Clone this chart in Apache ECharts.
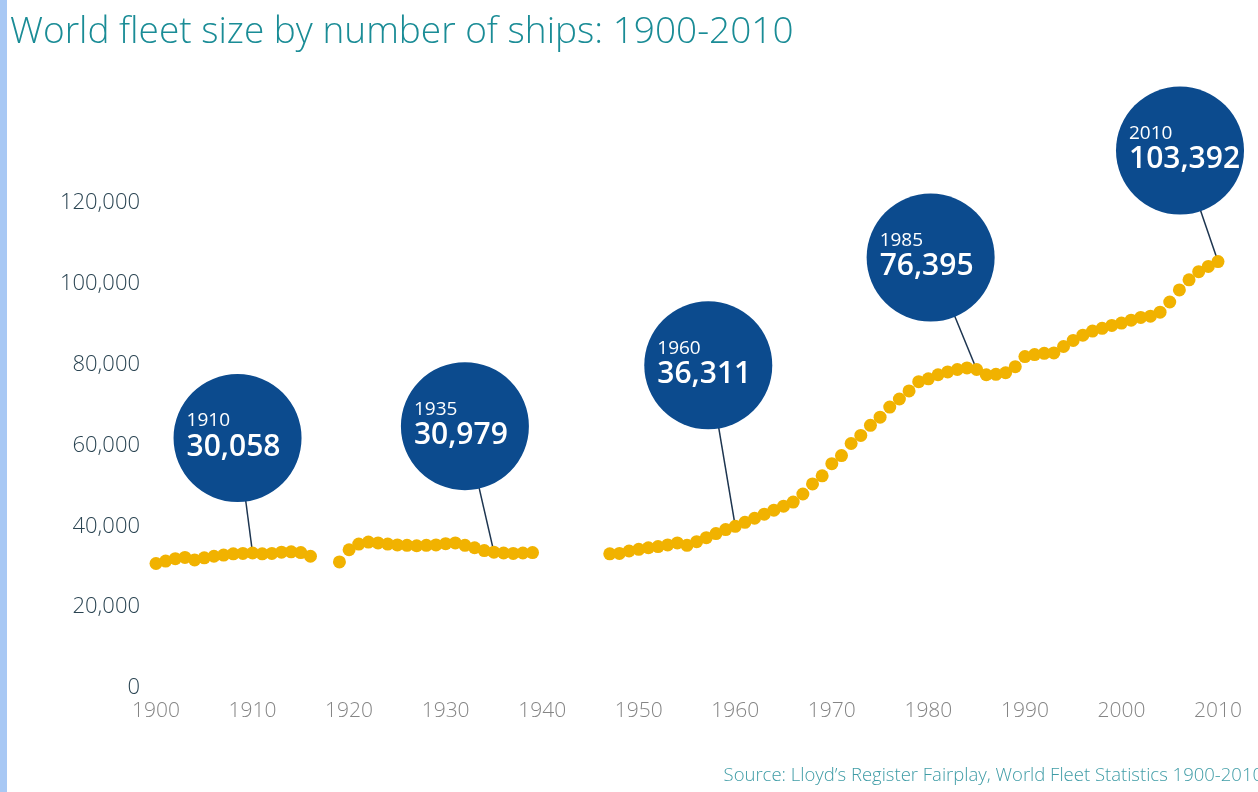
<!DOCTYPE html>
<html>
<head>
<meta charset="utf-8">
<script src="https://cdn.jsdelivr.net/npm/echarts@6/dist/echarts.min.js"></script>
<style>
  html, body { margin: 0; padding: 0; background: #fff; }
  #chart { width: 1258px; height: 792px; }
</style>
</head>
<body>
<div id="chart"></div>
<script>
// yearly fleet counts, in three unbroken runs
const run1Start = 1900;
const run1 = [30800, 31400, 32000, 32300, 31700, 32200, 32600, 32900, 33200, 33300,
  33400, 33200, 33300, 33600, 33700, 33500, 32600];
const run2Start = 1919;
const run2 = [31200, 34200, 35600, 36100, 35900, 35600, 35400, 35300, 35200, 35300,
  35400, 35700, 35900, 35300, 34700, 34000, 33600, 33400, 33300, 33400, 33500];
const run3Start = 1947;
const run3 = [33200, 33300, 33900, 34300, 34700, 35000, 35400, 35900, 35300, 36200,
  37200, 38200, 39200, 40000, 41000, 42000, 43000, 44000, 45000, 46000,
  48000, 50500, 52500, 55500, 57500, 60500, 62500, 65000, 67000, 69500,
  71500, 73500, 75800, 76500, 77500, 78200, 78800, 79200, 78800, 77500,
  77600, 78000, 79500, 82000, 82500, 82800, 82900, 84500, 86000, 87300,
  88300, 89000, 89700, 90300, 91000, 91700, 92000, 93000, 95500, 98500,
  101000, 103000, 104300, 105500];

// bubble annotations
const calloutYears = [1910, 1935, 1960, 1985, 2010];
const calloutLabels = ['30,058', '30,979', '36,311', '76,395', '103,392'];

const yTicks = [0, 20000, 40000, 60000, 80000, 100000, 120000];

// bubble centre offsets from the data point, in pixels
const bubbleOffsets = [[-15, -115], [-29, -126], [-27, -161], [-46, -112], [-38, -111]];

const toPairs = (start, vals) => vals.map((v, i) => [start + i, v]);
const points = [].concat(toPairs(run1Start, run1), toPairs(run2Start, run2), toPairs(run3Start, run3));

const chart = echarts.init(document.getElementById('chart'));

chart.setOption({
  animation: false,
  grid: { left: 156, right: 40, top: 203, bottom: 104 },
  xAxis: {
    type: 'value',
    min: 1900,
    max: 2010,
    interval: 10,
    axisLine: { show: false },
    axisTick: { show: false },
    splitLine: { show: false },
    axisLabel: {
      margin: 13,
      color: '#858585',
      fontFamily: 'Open Sans',
      fontWeight: 300,
      fontSize: 21,
      formatter: v => String(v)
    }
  },
  yAxis: {
    type: 'value',
    min: yTicks[0],
    max: yTicks[yTicks.length - 1],
    interval: 20000,
    axisLine: { show: false },
    axisTick: { show: false },
    splitLine: { show: false },
    axisLabel: {
      margin: 16,
      color: '#2a4452',
      fontFamily: 'Open Sans',
      fontWeight: 300,
      fontSize: 22,
      formatter: v => v.toLocaleString('en-US')
    }
  },
  series: [{
    type: 'scatter',
    data: points,
    symbol: 'circle',
    symbolSize: 13,
    z: 3,
    itemStyle: { color: '#f1b200', opacity: 1 }
  }]
});

// callouts: line from the point to a dark blue bubble
const gfx = [
  { type: 'rect', shape: { x: 0, y: 0, width: 7, height: 792 }, style: { fill: '#a8c8f4' } },
  {
    type: 'text', x: 10, y: 32,
    style: { text: 'World fleet size by number of ships: 1900-2010', fill: '#1a8c96',
      font: '300 37px "Open Sans"', verticalAlign: 'middle' }
  },
  {
    type: 'text', x: 1263, y: 776,
    style: { text: 'Source: Lloyd\u2019s Register Fairplay, World Fleet Statistics 1900-2010',
      fill: '#3f9ca6', font: '300 18.5px "Open Sans"', align: 'right', verticalAlign: 'middle' }
  }
];

calloutYears.forEach((yr, i) => {
  const p = points.find(d => d[0] === yr);
  const [px, py] = chart.convertToPixel({ seriesIndex: 0 }, p);
  const cx = px + bubbleOffsets[i][0];
  const cy = py + bubbleOffsets[i][1];
  gfx.push({
    type: 'line', z: 1,
    shape: { x1: px, y1: py, x2: cx, y2: cy },
    style: { stroke: '#1d3550', lineWidth: 1.5 }
  });
  gfx.push({
    type: 'circle', z: 10,
    shape: { cx: cx, cy: cy, r: 64 },
    style: { fill: '#0c4b8e' }
  });
  gfx.push({
    type: 'text', z: 11, x: cx - 51, y: cy - 17,
    style: { text: String(yr), fill: '#fff', font: '19px "Open Sans"', verticalAlign: 'middle' }
  });
  gfx.push({
    type: 'text', z: 11, x: cx - 51, y: cy + 9,
    style: { text: calloutLabels[i], fill: '#fff', font: '600 30px "Open Sans"', verticalAlign: 'middle' }
  });
});

chart.setOption({ graphic: gfx });
</script>
</body>
</html>
